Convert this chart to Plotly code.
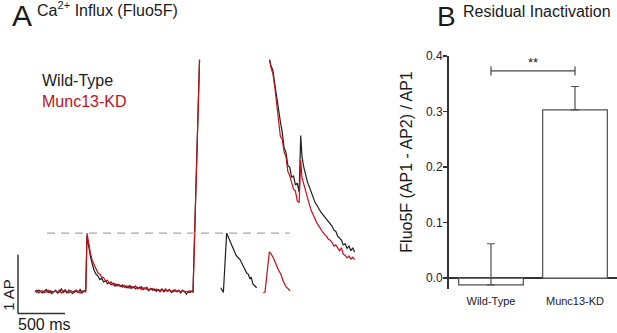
import plotly.graph_objects as go

# ---------------- Panel A data (time in ms, fluorescence in AP units) ----------------
seg1_t = [0, 20, 40, 60, 80, 100, 120, 140, 160, 180, 200, 220, 240, 260, 280, 300, 320, 340,
          360, 380, 400, 420, 440, 460, 480, 500, 520, 540, 553,
          570, 590, 610, 630, 650, 670, 690, 710, 730, 750, 770, 790, 810, 830, 850, 870, 890,
          910, 930, 950, 970, 990, 1010, 1030, 1050, 1070, 1090, 1110, 1130, 1150, 1170, 1190,
          1210, 1230, 1250, 1270, 1290, 1310, 1330, 1350, 1370, 1390, 1410, 1430, 1450, 1470,
          1490, 1510, 1530, 1550, 1570, 1590, 1610, 1630, 1650, 1670, 1681, 1760]
wt_seg1 = [0.02, -0.01, 0.03, 0.00, -0.02, 0.01, 0.04, -0.01, 0.02, -0.03, 0.01, 0.03, -0.02, 0.00,
           0.05, -0.01, 0.02, -0.02, 0.03, 0.00, -0.03, 0.02, 0.01, -0.01, 0.04, -0.02, 0.01, 0.03, 0.95,
           0.78, 0.60, 0.47, 0.36, 0.30, 0.27, 0.21, 0.23, 0.17, 0.19, 0.14, 0.16, 0.12, 0.15, 0.10,
           0.13, 0.11, 0.09, 0.12, 0.08, 0.10, 0.07, 0.11, 0.06, 0.09, 0.05, 0.08, 0.06, 0.09, 0.04,
           0.07, 0.05, 0.02, 0.06, 0.03, 0.05, 0.01, 0.04, 0.02, 0.05, 0.00, 0.03, 0.01, 0.04, -0.01,
           0.03, 0.02, 0.00, 0.03, -0.02, 0.02, 0.01, -0.04, 0.01, -0.01, 0.01, 0.00, 4.5]
kd_seg1 = [0.00, 0.03, -0.02, 0.01, 0.02, -0.01, 0.00, 0.03, -0.02, 0.01, 0.00, 0.02, -0.01, 0.03,
           -0.02, 0.01, 0.04, 0.00, -0.02, 0.02, 0.01, -0.01, 0.03, 0.00, -0.02, 0.02, 0.01, 0.00, 1.00,
           0.82, 0.66, 0.53, 0.45, 0.38, 0.32, 0.30, 0.25, 0.24, 0.19, 0.20, 0.15, 0.17, 0.12, 0.14,
           0.10, 0.13, 0.11, 0.08, 0.11, 0.07, 0.10, 0.06, 0.09, 0.07, 0.10, 0.05, 0.08, 0.04, 0.07,
           0.05, 0.08, 0.03, 0.05, 0.06, 0.02, 0.05, 0.03, 0.00, 0.04, 0.02, 0.05, 0.01, 0.03, 0.02,
           0.00, 0.04, 0.01, 0.02, 0.00, 0.03, 0.00, 0.01, -0.01, 0.02, 0.01, 0.00, 4.5]

wt_small_t = [1976, 1990, 2004, 2039, 2060, 2080, 2110, 2140, 2181, 2200, 2230, 2252, 2270, 2287,
              2300, 2319, 2340, 2358]
wt_small = [0.07, 0.03, -0.01, 1.00, 0.92, 0.82, 0.72, 0.62, 0.55, 0.48, 0.38, 0.32, 0.30, 0.22,
            0.25, 0.13, 0.10, 0.07]
kd_small_t = [2429, 2447, 2493, 2510, 2535, 2560, 2588, 2615, 2641, 2670, 2695, 2713]
kd_small = [-0.02, 0.00, 0.68, 0.65, 0.58, 0.48, 0.38, 0.30, 0.18, 0.09, 0.04, 0.02]

seg2_t = [2470, 2490, 2510, 2530, 2550, 2570, 2590, 2610, 2630, 2650, 2670, 2690, 2710, 2730, 2750,
          2770, 2790, 2810, 2827, 2840, 2860, 2880, 2900, 2920, 2940, 2960, 2980, 3000, 3020,
          3040, 3060, 3080, 3100, 3120, 3140, 3160, 3180, 3200, 3220, 3240, 3260, 3280, 3300,
          3320, 3340, 3360, 3380, 3400]
wt_seg2 = [4.4, 4.0, 3.85, 3.78, 3.55, 3.30, 3.05, 2.90, 2.72, 2.45, 2.38, 2.15, 2.12, 1.95, 1.98,
           1.82, 1.85, 1.70, 2.66, 2.30, 2.12, 1.98, 1.86, 1.78, 1.68, 1.62, 1.52, 1.47, 1.40,
           1.36, 1.32, 1.28, 1.25, 1.20, 1.18, 1.12, 1.05, 1.03, 0.95, 0.92, 0.88, 0.80, 0.82,
           0.74, 0.78, 0.70, 0.75, 0.68]
kd_seg2 = [4.4, 4.0, 3.82, 3.72, 3.50, 3.25, 3.00, 2.65, 2.60, 2.38, 2.30, 2.05, 1.98, 1.85, 1.75,
           1.72, 1.55, 1.52, 2.24, 1.95, 1.82, 1.70, 1.58, 1.48, 1.38, 1.30, 1.25, 1.17, 1.12,
           1.06, 1.02, 0.98, 0.95, 0.90, 0.88, 0.84, 0.78, 0.80, 0.74, 0.70, 0.75, 0.64, 0.62,
           0.58, 0.61, 0.56, 0.59, 0.55]

ap1_level = 1.0
dash_t = [128, 2713]

# ---------------- Panel B data ----------------
groups = ["Wild-Type", "Munc13-KD"]
inactivation = [-0.012, 0.303]
err_plus = [0.074, 0.042]

BLACK = "#1e1e1e"
RED = "#c0121b"
FONT = "Arial, Liberation Sans, sans-serif"

W, H = 617, 333
def px(x):
    return x / W
def py(y):
    return 1 - y / H

fig = go.Figure()

line_w = 1.2
for t, y, c in [(seg1_t, wt_seg1, BLACK), (seg1_t, kd_seg1, RED),
                (wt_small_t, wt_small, BLACK), (kd_small_t, kd_small, RED),
                (seg2_t, wt_seg2, BLACK), (seg2_t, kd_seg2, RED)]:
    fig.add_trace(go.Scatter(x=t, y=y, mode="lines", line=dict(color=c, width=line_w),
                             showlegend=False, hoverinfo="skip", xaxis="x", yaxis="y"))

# dashed reference line at AP1 peak
fig.add_trace(go.Scatter(x=dash_t, y=[ap1_level, ap1_level], mode="lines",
                         line=dict(color="#a8a8a8", width=1.2, dash="8px,6px"),
                         showlegend=False, hoverinfo="skip", xaxis="x", yaxis="y"))

# bars
fig.add_trace(go.Bar(x=groups, y=inactivation, width=0.77,
                     marker=dict(color="white", line=dict(color="#505050", width=1.2)),
                     error_y=dict(type="data", symmetric=False, array=err_plus,
                                  arrayminus=[0, 0], color="#505050", thickness=1.2, width=4),
                     showlegend=False, hoverinfo="skip", xaxis="x2", yaxis="y2"))

# left axes: 47 px per 500 ms, 60 px per AP
fig.update_layout(
    width=W, height=H, margin=dict(l=0, r=0, t=0, b=0),
    paper_bgcolor="white", plot_bgcolor="white",
    font=dict(family=FONT, color="#222"),
    xaxis=dict(domain=[0, 370 / W], range=[-372.3, 3563.8], visible=False, fixedrange=True),
    yaxis=dict(domain=[0, py(54)], range=[-0.7, 3.95], visible=False, fixedrange=True),
    xaxis2=dict(domain=[px(449), 1.0], range=[-0.5, 1.5], anchor="y2", showline=False,
                ticks="", tickfont=dict(size=11, color="#222"), showgrid=False, zeroline=False,
                ticklabelstandoff=4, fixedrange=True),
    yaxis2=dict(domain=[py(288), py(50)], range=[-0.0193, 0.4], anchor="x2",
                tickvals=[0, 0.1, 0.2, 0.3, 0.4], ticktext=["0.0", "0.1", "0.2", "0.3", "0.4"],
                ticks="outside", ticklen=4, tickwidth=1.5, tickcolor="#333",
                showline=True, linecolor="#333", linewidth=2, showgrid=False,
                zeroline=True, zerolinecolor="#333", zerolinewidth=2, ticklabelstandoff=-2,
                tickfont=dict(size=12, color="#222"), fixedrange=True),
    bargap=0.2,
)

shapes = []
# scale bar (1 AP vertical, 500 ms horizontal)
sb_t0 = -181
sb_y0 = -0.367
shapes.append(dict(type="line", xref="x", yref="y", x0=sb_t0, x1=sb_t0, y0=sb_y0, y1=sb_y0 + 1,
                   line=dict(color="#333", width=1.5)))
shapes.append(dict(type="line", xref="x", yref="y", x0=sb_t0, x1=sb_t0 + 500, y0=sb_y0, y1=sb_y0,
                   line=dict(color="#333", width=1.5)))
# significance bracket
br_y = 0.373
shapes.append(dict(type="line", xref="x2", yref="y2", x0=0, x1=1, y0=br_y, y1=br_y,
                   line=dict(color="#444", width=1.2)))
for xx in (0, 1):
    shapes.append(dict(type="line", xref="x2", yref="y2", x0=xx, x1=xx, y0=br_y - 0.008,
                       y1=br_y + 0.008, line=dict(color="#444", width=1.2)))
fig.update_layout(shapes=shapes)

ann = []
def text(x, y, s, size, color="#1a1a1a", xanchor="left", angle=0, yanchor="middle"):
    ann.append(dict(x=px(x), y=py(y), xref="paper", yref="paper", text=s, showarrow=False,
                    xanchor=xanchor, yanchor=yanchor, textangle=angle,
                    font=dict(size=size, color=color, family=FONT)))

text(10, 9, "A", 30)
text(35, 2, "Ca<sup>2+</sup> Influx (Fluo5F)", 16)
text(435, 10, "B", 28)
text(461, 5, "Residual Inactivation", 16)
text(40, 75, "Wild-Type", 16)
text(40, 97, "Munc13-KD", 16, color=RED)
text(407, 158, "Fluo5F (AP1 - AP2) / AP1", 16, xanchor="center", angle=-90)
text(533, 57, "**", 13, xanchor="center")
text(9, 294, "1 AP", 15, xanchor="center", angle=-90)
text(16, 324, "500 ms", 16)
fig.update_layout(annotations=ann)

fig.write_html("out.html", config={"displayModeBar": False, "staticPlot": True},
               post_script="document.body.style.margin='0';document.body.style.overflow='hidden';")
